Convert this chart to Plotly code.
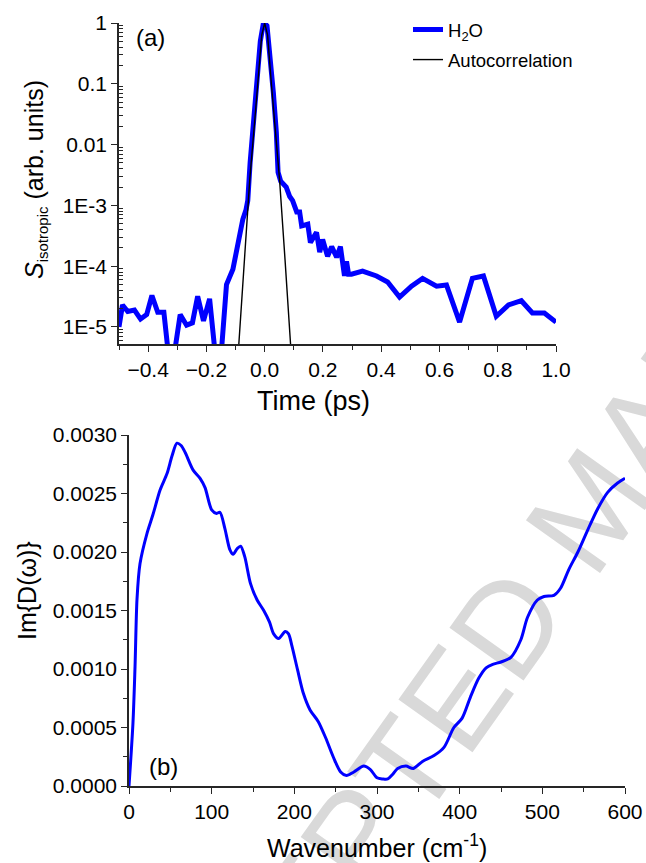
import plotly.graph_objects as go

# ---------------- data: panel (a) ----------------
h2o_time = [-0.500, -0.488, -0.470, -0.447, -0.426, -0.405, -0.387, -0.367, -0.346,
            -0.322, -0.290, -0.268, -0.248, -0.230, -0.210, -0.189, -0.158, -0.131,
            -0.109, -0.096, -0.086, -0.075, -0.064, -0.058, -0.050, -0.040, -0.028,
            -0.015, -0.005, 0.000, 0.008, 0.020, 0.030, 0.040, 0.046, 0.055, 0.063,
            0.074, 0.086, 0.096, 0.110, 0.120, 0.127, 0.148, 0.157, 0.178, 0.189,
            0.199, 0.216, 0.230, 0.247, 0.260, 0.274, 0.281, 0.288, 0.298, 0.336,
            0.384, 0.422, 0.463, 0.504, 0.542, 0.590, 0.624, 0.669, 0.713, 0.751,
            0.795, 0.837, 0.881, 0.919, 0.960, 1.000]
h2o_signal = [1.0e-5, 2.3e-5, 1.8e-5, 1.9e-5, 1.35e-5, 1.6e-5, 3.3e-5, 1.75e-5, 1.75e-5,
              1.5e-6, 1.6e-5, 1.07e-5, 1.17e-5, 3.2e-5, 1.26e-5, 2.9e-5, 1.0e-6, 5.0e-5,
              8.9e-5, 1.9e-4, 2.75e-4, 5.9e-4, 8.5e-4, 1.2e-3, 5.0e-3, 2.0e-2, 0.13,
              0.5, 0.95, 1.0, 0.9, 0.25, 0.07, 0.016, 3.5e-3, 2.5e-3, 2.3e-3,
              2.0e-3, 1.4e-3, 1.2e-3, 7.8e-4, 7.8e-4, 4.6e-4, 4.9e-4, 2.45e-4, 3.6e-4, 1.7e-4,
              2.75e-4, 1.45e-4, 2.1e-4, 1.4e-4, 2.1e-4, 6.9e-5, 1.2e-4, 7.4e-5, 7.4e-5, 8.3e-5,
              6.9e-5, 5.5e-5, 3.1e-5, 4.7e-5, 6.3e-5, 4.7e-5, 4.9e-5, 1.2e-5, 6.3e-5, 6.9e-5,
              1.5e-5, 2.3e-5, 2.7e-5, 1.7e-5, 1.7e-5, 1.2e-5]

auto_time = [-0.100, -0.089, -0.070, -0.051, -0.035, -0.023, -0.010, 0.000,
             0.010, 0.023, 0.035, 0.051, 0.070, 0.089, 0.100]
auto_signal = [8.0e-7, 5.2e-6, 1.26e-4, 2.7e-3, 2.2e-2, 0.1, 0.63, 1.0,
               0.63, 0.1, 2.2e-2, 2.7e-3, 1.26e-4, 5.2e-6, 8.0e-7]

# ---------------- data: panel (b) ----------------
wavenumber = [0, 4.8, 7.3, 9.7, 13.3, 21.8, 29, 37.6, 46, 52, 58, 63, 68, 77.6, 86, 92,
              100, 106, 110, 116, 122, 126, 131, 135, 140, 147, 155, 163, 170, 175, 181,
              189, 193, 197, 204, 211, 219, 229, 238, 247, 256, 263, 272, 284, 292, 300,
              307, 313, 319, 325, 335, 344, 355, 369, 381, 393, 403, 413, 423, 432, 440,
              450, 462, 474, 482, 494, 502, 514, 522, 532, 543, 555, 567, 579, 591, 600]
im_d = [0.0, 0.00054, 0.00102, 0.00160, 0.00190, 0.00216, 0.00232, 0.00253, 0.00267,
        0.00282, 0.00293, 0.00291, 0.00285, 0.00270, 0.00263, 0.00255,
        0.00236, 0.00233, 0.00234, 0.00220, 0.00202, 0.00198, 0.00203, 0.00205, 0.00196,
        0.00173, 0.00159, 0.00150, 0.00140, 0.00130, 0.00126,
        0.00132, 0.00130, 0.00120, 0.00099, 0.00079, 0.00065, 0.00055, 0.00041, 0.00025,
        0.00012, 0.00009, 0.00012, 0.00017, 0.00014, 0.00007,
        0.00006, 0.00006, 0.00010, 0.00015, 0.00017, 0.00015, 0.00021, 0.00026, 0.00033,
        0.00050, 0.00058, 0.00076, 0.00092, 0.00101, 0.00104,
        0.00106, 0.00110, 0.00125, 0.00144, 0.00159, 0.00162, 0.00163, 0.00169, 0.00185,
        0.00200, 0.00219, 0.00237, 0.00251, 0.00259, 0.00263]

# tick labels
log_tickvals = [1e-5, 1e-4, 1e-3, 1e-2, 1e-1, 1]
log_ticktext = ["1E-5", "1E-4", "1E-3", "0.01", "0.1", "1"]
log_minor = [m * 10.0 ** e for e in range(-6, 0) for m in range(2, 10)]

W, H = 646, 863
FONT = "Liberation Sans, Arial, sans-serif"
AXC = "#262626"


def px(x):
    return x / W


def py(y):
    return 1 - y / H


fig = go.Figure()

fig.add_trace(go.Scatter(x=h2o_time, y=h2o_signal, mode="lines",
                         line=dict(color="#0000ff", width=5), legendgroup="a",
                         name="H<sub>2</sub>O", xaxis="x", yaxis="y"))
fig.add_trace(go.Scatter(x=auto_time, y=auto_signal, mode="lines",
                         line=dict(color="#000000", width=1.4), legendgroup="b",
                         name="Autocorrelation", xaxis="x", yaxis="y"))
fig.add_trace(go.Scatter(x=wavenumber, y=im_d, mode="lines",
                         line=dict(color="#0000ff", width=3, shape="spline", smoothing=0.8),
                         showlegend=False, xaxis="x2", yaxis="y2"))

common = dict(showline=True, linecolor=AXC, linewidth=1.5, ticks="outside",
              tickcolor=AXC, ticklen=6, tickwidth=1.2, showgrid=False, zeroline=False,
              automargin=False,
              tickfont=dict(family=FONT, size=21, color="#000"))

fig.update_layout(
    template="none",
    width=W, height=H,
    margin=dict(l=0, r=0, t=0, b=0, pad=0),
    paper_bgcolor="white", plot_bgcolor="rgba(0,0,0,0)",
    font=dict(family=FONT, color="#000"),
    xaxis=dict(domain=[px(119), px(556)], range=[-0.5, 1.0], tick0=0, dtick=0.2,
               tickformat=".1f", anchor="y",
               minor=dict(dtick=0.1, ticks="outside", ticklen=4, tickcolor=AXC), **common),
    yaxis=dict(domain=[py(344), py(23)], type="log", range=[-5.28, 0.0],
               tickmode="array", tickvals=log_tickvals, ticktext=log_ticktext, anchor="x",
               minor=dict(tickmode="array", tickvals=log_minor, ticks="inside",
                          ticklen=4, tickcolor=AXC), **common),
    xaxis2=dict(domain=[px(129), px(625)], range=[0, 600], tick0=0, dtick=100, anchor="y2",
                minor=dict(dtick=50, ticks="outside", ticklen=4, tickcolor=AXC), **common),
    yaxis2=dict(domain=[py(786), py(435)], range=[0, 0.003], tick0=0, dtick=0.0005,
                tickformat=".4f", anchor="x2",
                minor=dict(dtick=0.00025, ticks="outside", ticklen=4, tickcolor=AXC), **common),
    legend=dict(x=px(408), y=py(11), xanchor="left", yanchor="top",
                bgcolor="rgba(0,0,0,0)", font=dict(family=FONT, size=18.5, color="#000"),
                traceorder="grouped", tracegroupgap=3, itemwidth=30),
    showlegend=True,
    hovermode=False,
)

big = dict(family=FONT, size=25, color="#000")
annotations = [
    dict(text="(a)", x=px(150), y=py(37), font=dict(family=FONT, size=24, color="#000")),
    dict(text="(b)", x=px(163), y=py(766), font=dict(family=FONT, size=24, color="#000")),
    dict(text="Time (ps)", x=px(313), y=py(401), font=dict(family=FONT, size=27, color="#000")),
    dict(text="Wavenumber (cm<sup>-1</sup>)", x=px(377), y=py(846), font=big),
    dict(text="<i>S</i><sub><span style='font-size:15px'>isotropic</span></sub> (arb. units)",
         x=px(35), y=py(180), textangle=-90, font=big),
    dict(text="Im{D(\u03c9)}", x=px(27), y=py(590), textangle=-90, font=big),
]
for a in annotations:
    a.update(xref="paper", yref="paper", showarrow=False, xanchor="center", yanchor="middle")
fig.update_layout(annotations=annotations)

# watermark, drawn below the data
cx, cy, dx, dy = 580, 500, 58, 81
fig.add_shape(type="line", xref="paper", yref="paper",
              x0=px(cx - dx), y0=py(cy + dy), x1=px(cx + dx), y1=py(cy - dy),
              line=dict(color="rgba(0,0,0,0)", width=0), layer="below",
              label=dict(text="ACCEPTED MANUSCRIPT", textposition="middle", yanchor="middle",
                         textangle=-54.6,
                         font=dict(family=FONT, size=132, color="#d9d9d9")))

fig.write_html("out.html")
